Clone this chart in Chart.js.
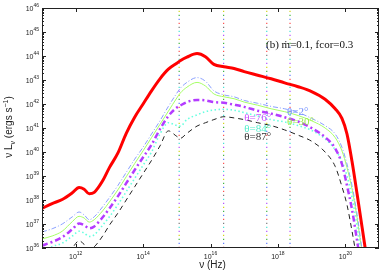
<!DOCTYPE html>
<html>
<head>
<meta charset="utf-8">
<script src="https://cdn.jsdelivr.net/npm/chart.js@4"></script>
<style>
  html, body { margin: 0; padding: 0; background: #fff; }
  #sed { display: block; }
</style>
</head>
<body>
<canvas id="sed" width="382" height="273"></canvas>
<script>
// frequency grid, log10(nu / Hz)
var logNu = [11.0, 11.3, 11.6, 11.9, 12.1, 12.25, 12.4, 12.55, 12.8, 13.0,
             13.25, 13.5, 13.75, 14.0, 14.25, 14.5, 14.75, 15.0, 15.1, 15.3,
             15.6, 15.85, 16.1, 16.4, 16.7, 17.0, 17.4, 17.8, 18.2, 18.6,
             19.0, 19.4, 19.7, 19.9, 20.05, 20.2, 20.35, 20.5, 20.6];

// log10(nu L_nu / erg s^-1)
var total = [37.65, 37.85, 38.02, 38.3, 38.52, 38.45, 38.26, 38.32, 38.8, 39.35,
             39.95, 40.78, 41.45, 42.0, 42.55, 43.05, 43.45, 43.7, 43.8, 43.95,
             44.1, 43.97, 43.65, 43.55, 43.48, 43.35, 43.2, 43.05, 42.88, 42.72,
             42.52, 42.2, 41.8, 41.4, 40.75, 39.6, 38.25, 36.85, 35.9];
var theta2 = [36.67, 36.8, 37.0, 37.3, 37.5, 37.38, 37.18, 37.3, 37.72, 38.1,
              38.6, 39.15, 39.7, 40.2, 40.75, 41.3, 41.9, 42.45, 42.65, 42.9,
              43.1, 42.95, 42.55, 42.38, 42.3, 42.15, 42.03, 41.9, 41.8, 41.65,
              41.4, 41.1, 40.75, 40.2, 39.5, 38.6, 37.4, 35.9, 35.0];
var theta30 = [36.38, 36.5, 36.7, 37.1, 37.32, 37.25, 37.08, 37.18, 37.55, 37.92,
               38.42, 38.97, 39.52, 40.05, 40.6, 41.15, 41.7, 42.25, 42.45, 42.7,
               42.9, 42.75, 42.42, 42.3, 42.22, 42.08, 41.95, 41.8, 41.68, 41.52,
               41.3, 41.0, 40.6, 40.05, 39.35, 38.45, 37.25, 35.8, 35.0];
var theta76 = [36.1, 36.25, 36.45, 36.78, 37.02, 36.95, 36.82, 36.9, 37.28, 37.65,
               38.15, 38.7, 39.25, 39.78, 40.3, 40.95, 41.5, 41.85, 41.93, 42.08,
               42.17, 42.15, 42.08, 42.05, 41.97, 41.88, 41.72, 41.6, 41.45, 41.27,
               41.0, 40.62, 40.15, 39.5, 38.6, 37.6, 36.3, 35.0, 34.5];
var theta84 = [35.7, 36.05, 36.2, 36.5, 36.7, 36.62, 36.48, 36.55, 36.95, 37.3,
               37.8, 38.35, 38.9, 39.45, 40.0, 40.75, 41.22, 41.1, 41.08, 41.35,
               41.55, 41.68, 41.75, 41.78, 41.74, 41.64, 41.5, 41.35, 41.25, 41.1,
               40.9, 40.55, 40.1, 39.6, 39.0, 38.1, 36.9, 35.3, 34.5];
var theta87 = [34.8, 35.1, 35.5, 36.0, 36.3, 36.15, 35.92, 36.05, 36.5, 36.95,
               37.45, 38.0, 38.55, 39.1, 39.65, 40.25, 40.88, 40.65, 40.57, 40.78,
               41.08, 41.22, 41.35, 41.47, 41.42, 41.35, 41.22, 41.1, 40.92, 40.7,
               40.45, 40.0, 39.4, 38.56, 37.8, 36.7, 35.5, 34.5, 34.0];

// vertical marker frequencies, log10(nu)
var markNu = [15.07, 16.39, 17.67, 18.36];
var markColors = ['#ff4040', '#5070ff', '#30b030', '#d0d000', '#b040ff', '#30e0d0', '#707070'];

var xMajor = [12, 14, 16, 18, 20];
var yMajor = [36, 37, 38, 39, 40, 41, 42, 43, 44, 45, 46];

var curveLabels = [
  {text: '\u03b8=2\u00b0',  nu: 18.27, L: 41.72, color: '#6f8cff'},
  {text: '\u03b8=30\u00b0', nu: 18.27, L: 41.3,  color: '#99ee44'},
  {text: '\u03b8=76\u00b0', nu: 17.0,  L: 41.46, color: '#cc55ff'},
  {text: '\u03b8=84\u00b0', nu: 17.0,  L: 41.0,  color: '#55eecc'},
  {text: '\u03b8=87\u00b0', nu: 17.0,  L: 40.68, color: '#333333'}
];

function pts(vals) {
  return logNu.map(function (v, i) { return {x: Math.pow(10, v), y: Math.pow(10, vals[i])}; });
}

var curves = [
  {data: pts(total),   borderColor: '#ff0000', borderWidth: 3},
  {data: pts(theta2),  borderColor: '#8aa0ff', borderWidth: 1, borderDash: [5, 2, 1, 2]},
  {data: pts(theta30), borderColor: '#a6ff66', borderWidth: 1},
  {data: pts(theta76), borderColor: '#b43cff', borderWidth: 2.5, borderDash: [6, 3, 2, 3]},
  {data: pts(theta84), borderColor: '#66ffe0', borderWidth: 1.6, borderDash: [1.5, 2.5]},
  {data: pts(theta87), borderColor: '#222222', borderWidth: 1, borderDash: [5, 4]}
];
curves.forEach(function (c) {
  c.pointRadius = 0;
  c.fill = false;
  c.cubicInterpolationMode = 'monotone';
});

// dotted verticals with cycling colours
var markers = [];
markNu.forEach(function (m) {
  markColors.forEach(function (col, k) {
    markers.push({
      data: [{x: Math.pow(10, m), y: 1e36}, {x: Math.pow(10, m), y: 1e46}],
      borderColor: col, borderWidth: 1.1, pointRadius: 0, fill: false,
      borderDash: [1.2, markColors.length * 4 - 1.2], borderDashOffset: -k * 4
    });
  });
});

function sup(ctx, base, exp, x, y, align) {
  ctx.font = '7px "Liberation Sans", Arial, sans-serif';
  var w1 = ctx.measureText(base).width;
  ctx.font = '5px "Liberation Sans", Arial, sans-serif';
  var w2 = ctx.measureText(exp).width;
  var x0 = align === 'right' ? x - w1 - w2 : x - (w1 + w2) / 2;
  ctx.textAlign = 'left';
  ctx.font = '7px "Liberation Sans", Arial, sans-serif';
  ctx.fillText(base, x0, y + 3);
  ctx.font = '5px "Liberation Sans", Arial, sans-serif';
  ctx.fillText(exp, x0 + w1, y - 1);
}

var frame = {
  id: 'frame',
  afterDraw: function (chart) {
    var ctx = chart.ctx, a = chart.chartArea;
    var xs = chart.scales.x, ys = chart.scales.y;
    ctx.save();
    ctx.strokeStyle = '#222';
    ctx.lineWidth = 1;
    ctx.strokeRect(a.left + 0.5, a.top + 0.5, a.right - a.left - 1, a.bottom - a.top - 1);

    ctx.beginPath();
    xMajor.forEach(function (e) {
      var px = Math.round(xs.getPixelForValue(Math.pow(10, e))) + 0.5;
      ctx.moveTo(px, a.bottom); ctx.lineTo(px, a.bottom - 4);
      ctx.moveTo(px, a.top); ctx.lineTo(px, a.top + 4);
    });
    yMajor.forEach(function (e) {
      var py = Math.round(ys.getPixelForValue(Math.pow(10, e))) + 0.5;
      ctx.moveTo(a.left, py); ctx.lineTo(a.left + 4, py);
      ctx.moveTo(a.right, py); ctx.lineTo(a.right - 4, py);
      if (e < 46) {
        for (var m = 2; m < 10; m++) {
          var q = Math.round(ys.getPixelForValue(m * Math.pow(10, e))) + 0.5;
          ctx.moveTo(a.left, q); ctx.lineTo(a.left + 2, q);
          ctx.moveTo(a.right, q); ctx.lineTo(a.right - 2, q);
        }
      }
    });
    ctx.stroke();

    ctx.fillStyle = '#222';
    yMajor.forEach(function (e) {
      sup(ctx, '10', String(e), a.left - 3, ys.getPixelForValue(Math.pow(10, e)), 'right');
    });
    xMajor.forEach(function (e) {
      sup(ctx, '10', String(e), xs.getPixelForValue(Math.pow(10, e)), a.bottom + 8, 'center');
    });

    // axis titles
    ctx.font = '10px "Liberation Sans", Arial, sans-serif';
    ctx.textAlign = 'center';
    ctx.fillText('\u03bd (Hz)', (a.left + a.right) / 2 + 2, 268);

    ctx.save();
    ctx.translate(12, 127);
    ctx.rotate(-Math.PI / 2);
    ctx.textAlign = 'left';
    var parts = [['\u03bd L', 10, 0], ['\u03bd', 7, 3], [' (ergs s', 10, 0], ['\u22121', 7, -4], [')', 10, 0]];
    var total_w = 0;
    parts.forEach(function (p) {
      ctx.font = p[1] + 'px "Liberation Sans", Arial, sans-serif';
      total_w += ctx.measureText(p[0]).width;
    });
    var cx = -total_w / 2;
    parts.forEach(function (p) {
      ctx.font = p[1] + 'px "Liberation Sans", Arial, sans-serif';
      ctx.fillText(p[0], cx, p[2]);
      cx += ctx.measureText(p[0]).width;
    });
    ctx.restore();

    // annotation
    ctx.textAlign = 'left';
    ctx.fillStyle = '#111';
    ctx.font = '11px "Liberation Serif", "Times New Roman", serif';
    ctx.fillText('(b) \u1e41=0.1, fcor=0.3', 266, 48);

    ctx.font = '11px "Liberation Serif", "Times New Roman", serif';
    curveLabels.forEach(function (lb) {
      ctx.fillStyle = lb.color;
      ctx.fillText(lb.text, xs.getPixelForValue(Math.pow(10, lb.nu)),
                   ys.getPixelForValue(Math.pow(10, lb.L)) + 4);
    });
    ctx.restore();
  }
};

new Chart(document.getElementById('sed'), {
  type: 'line',
  data: {datasets: curves.concat(markers)},
  options: {
    responsive: false,
    animation: false,
    devicePixelRatio: 1,
    layout: {padding: {top: 8, right: 3, left: 0, bottom: 0}},
    plugins: {legend: {display: false}, tooltip: {enabled: false}},
    scales: {
      x: {
        type: 'logarithmic', min: 1e11, max: 1e21,
        grid: {display: false}, border: {display: false},
        ticks: {display: false},
        afterFit: function (s) { s.height = 25; }
      },
      y: {
        type: 'logarithmic', min: 1e36, max: 1e46,
        grid: {display: false}, border: {display: false},
        ticks: {display: false},
        afterFit: function (s) { s.width = 42; }
      }
    }
  },
  plugins: [frame]
});
</script>
</body>
</html>
